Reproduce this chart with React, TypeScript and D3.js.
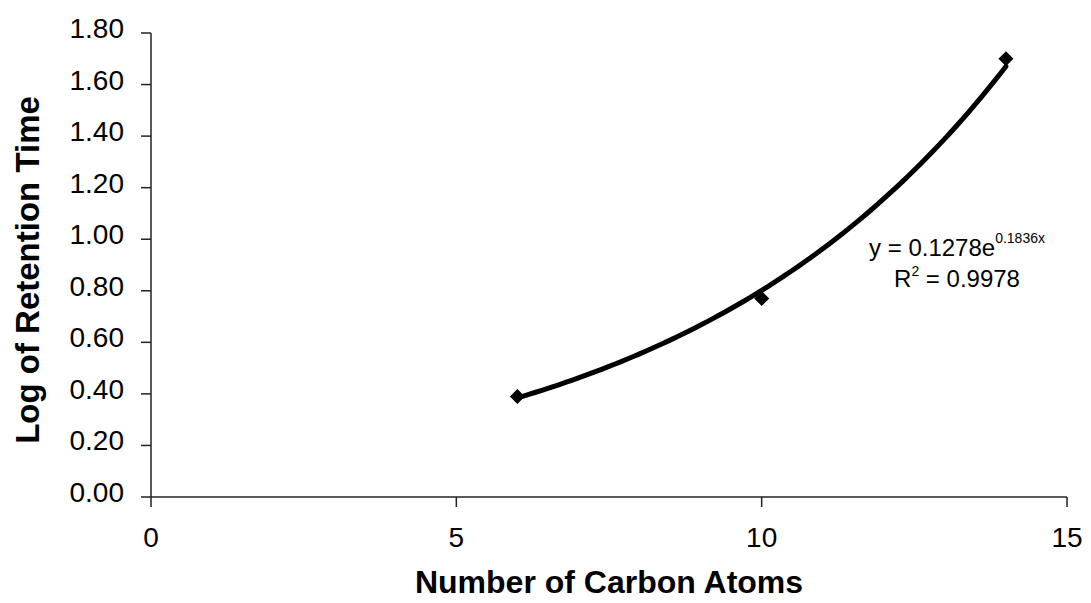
import React from "react";
import * as d3 from "d3";

const carbonAtoms = [6, 10, 14];
const logRetention = [0.39, 0.77, 1.7];
const xTicks = [0, 5, 10, 15];
const yTicks = [0, 0.2, 0.4, 0.6, 0.8, 1.0, 1.2, 1.4, 1.6, 1.8];
const trendA = 0.1278;
const trendB = 0.1836;
const trendRange = [6, 14];
const xTitle = "Number of Carbon Atoms";
const yTitle = "Log of Retention Time";

const W = 1091;
const H = 603;
const FONT = "'Liberation Sans', Arial, Helvetica, sans-serif";

export default function App() {
  const x = d3.scaleLinear().domain([0, 15]).range([151, 1067]);
  const y = d3.scaleLinear().domain([0, 1.8]).range([497, 33]);

  const trendPts = d3
    .range(trendRange[0], trendRange[1] + 0.0001, 0.1)
    .map((v) => [v, trendA * Math.exp(trendB * v)] as [number, number]);
  const line = d3
    .line<[number, number]>()
    .x((d) => x(d[0]))
    .y((d) => y(d[1]))
    .curve(d3.curveMonotoneX);

  const x0 = x(0);
  const y0 = y(0);
  const axisColor = "#222";

  return (
    <svg
      width={W}
      height={H}
      style={{ position: "absolute", left: 0, top: 0, background: "#fff" }}
      fontFamily={FONT}
    >
      <rect x={0} y={0} width={W} height={H} fill="#fff" />
      {/* axes */}
      <line x1={x0} x2={x(15)} y1={y0} y2={y0} stroke={axisColor} strokeWidth={1.5} />
      <line x1={x0} x2={x0} y1={y(1.8)} y2={y0} stroke={axisColor} strokeWidth={1.5} />
      {yTicks.map((t) => (
        <g key={"y" + t}>
          <line x1={x0 - 10} x2={x0} y1={y(t)} y2={y(t)} stroke={axisColor} strokeWidth={1.5} />
          <text x={124} y={y(t) + 5} textAnchor="end" fontSize={28} fill="#000">
            {t.toFixed(2)}
          </text>
        </g>
      ))}
      {xTicks.map((t) => (
        <g key={"x" + t}>
          <line x1={x(t)} x2={x(t)} y1={y0} y2={y0 + 10} stroke={axisColor} strokeWidth={1.5} />
          <text x={x(t)} y={y0 + 50} textAnchor="middle" fontSize={28} fill="#000">
            {t}
          </text>
        </g>
      ))}
      {/* markers */}
      {carbonAtoms.map((c, i) => {
        const cx = x(c);
        const cy = y(logRetention[i]);
        const r = 7.5;
        return (
          <path
            key={"m" + i}
            d={`M${cx},${cy - r}L${cx + r},${cy}L${cx},${cy + r}L${cx - r},${cy}Z`}
            fill="#000"
          />
        );
      })}
      {/* trendline */}
      <path d={line(trendPts) || ""} fill="none" stroke="#000" strokeWidth={5} strokeLinecap="round" />
      {/* equation */}
      <text x={957} y={256} textAnchor="middle" fontSize={24} fill="#000">
        y = 0.1278e
        <tspan fontSize={14} dy={-13}>0.1836x</tspan>
      </text>
      <text x={957} y={287} textAnchor="middle" fontSize={24} fill="#000">
        R<tspan fontSize={14} dy={-11}>2</tspan>
        <tspan dy={11}> = 0.9978</tspan>
      </text>
      {/* titles */}
      <text x={(x0 + x(15)) / 2} y={593} textAnchor="middle" fontSize={32} fontWeight="bold" fill="#000">
        {xTitle}
      </text>
      <text
        transform={`translate(39, ${(y(0) + y(1.8)) / 2 + 5}) rotate(-90)`}
        textAnchor="middle"
        fontSize={33}
        fontWeight="bold"
        fill="#000"
      >
        {yTitle}
      </text>
    </svg>
  );
}
